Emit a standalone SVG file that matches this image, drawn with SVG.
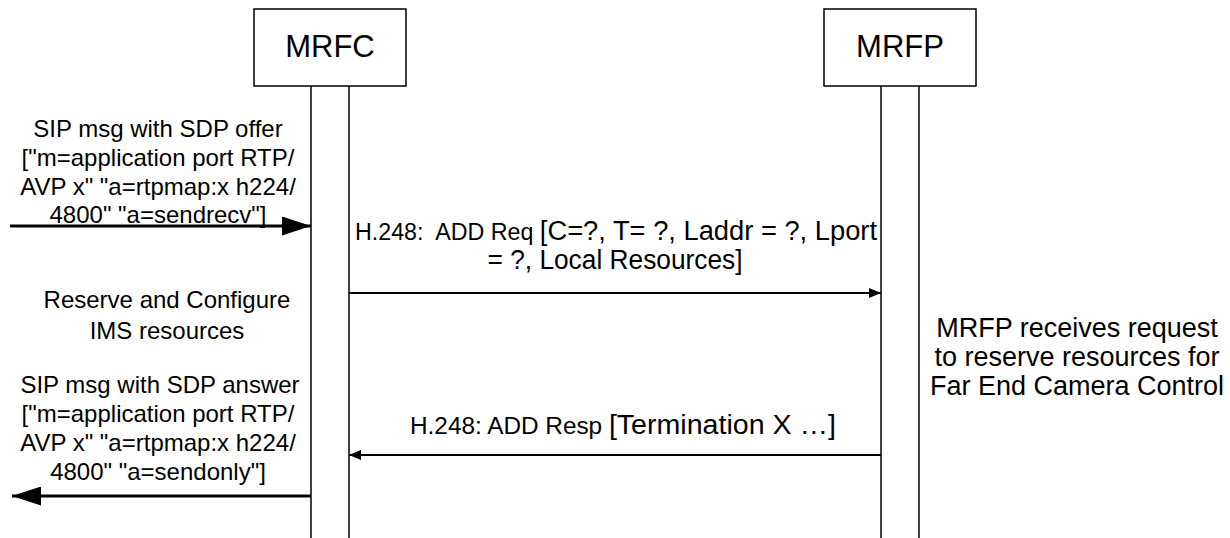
<svg xmlns="http://www.w3.org/2000/svg" width="1230" height="538" viewBox="0 0 1230 538">
<style>
.box{fill:#fff;stroke:#000;stroke-width:1.5}
.life{stroke:#000;stroke-width:1.5;fill:none}
.title{font-family:"Liberation Sans",Arial,sans-serif;font-size:31px;fill:#000;text-anchor:middle}
.t{font-family:"Liberation Sans",Arial,sans-serif;font-size:24px;fill:#000;text-anchor:middle}
.r{font-size:27px}
.s{font-size:23px}
.sip{stroke:#000;stroke-width:2.8;fill:none}
.h{stroke:#000;stroke-width:2;fill:none}
</style>
<defs>
<marker id="big" viewBox="0 0 29 19" refX="29" refY="9.5" markerWidth="29" markerHeight="19" markerUnits="userSpaceOnUse" orient="auto"><path d="M0,0 L29,9.5 L0,19 Z" fill="#000"/></marker>
<marker id="small" viewBox="0 0 12 10" refX="12" refY="5" markerWidth="12" markerHeight="10" markerUnits="userSpaceOnUse" orient="auto"><path d="M0,0 L12,5 L0,10 Z" fill="#000"/></marker>
</defs>
<rect width="1230" height="538" fill="#fff"/>
<g id="mrfc">
<rect class="box" x="254" y="9" width="152" height="77"/>
<text class="title" x="330" y="57">MRFC</text>
<line class="life" x1="311" y1="86" x2="311" y2="538"/>
<line class="life" x1="349" y1="86" x2="349" y2="538"/>
</g>
<g id="mrfp">
<rect class="box" x="824" y="9" width="152" height="77"/>
<text class="title" x="900" y="57">MRFP</text>
<line class="life" x1="881" y1="86" x2="881" y2="538"/>
<line class="life" x1="919" y1="86" x2="919" y2="538"/>
</g>
<g id="connectors">
<line class="sip" x1="10" y1="226" x2="311" y2="226" marker-end="url(#big)"/>
<line class="h" x1="349" y1="293" x2="881" y2="293" marker-end="url(#small)"/>
<line class="h" x1="881" y1="455" x2="349" y2="455" marker-end="url(#small)"/>
<line class="sip" x1="311" y1="496" x2="12" y2="496" marker-end="url(#big)"/>
</g>
<g id="labels">
<text class="t" x="158" y="137">SIP msg with SDP offer</text>
<text class="t" x="158" y="166">["m=application port RTP/</text>
<text class="t" x="158" y="195">AVP x" "a=rtpmap:x h224/</text>
<text class="t" x="158" y="223">4800" "a=sendrecv"]</text>
<text class="t" x="167" y="308">Reserve and Configure</text>
<text class="t" x="167" y="339">IMS resources</text>
<text class="t" x="160" y="393">SIP msg with SDP answer</text>
<text class="t" x="158" y="422">["m=application port RTP/</text>
<text class="t" x="158" y="451">AVP x" "a=rtpmap:x h224/</text>
<text class="t" x="158" y="480">4800" "a=sendonly"]</text>
<text class="t" x="616" y="240" textLength="522" lengthAdjust="spacingAndGlyphs"><tspan class="s">H.248:&#160; ADD Req </tspan><tspan class="r">[C=?, T= ?, Laddr = ?, Lport</tspan></text>
<text class="t r" x="615" y="269" textLength="255" lengthAdjust="spacingAndGlyphs">= ?, Local Resources]</text>
<text class="t" x="623" y="434" textLength="426" lengthAdjust="spacingAndGlyphs"><tspan class="s">H.248: ADD Resp </tspan><tspan class="r">[Termination X …]</tspan></text>
<text class="t r" x="1077" y="337">MRFP receives request</text>
<text class="t r" x="1077" y="366">to reserve resources for</text>
<text class="t r" x="1077" y="395">Far End Camera Control</text>
</g>
</svg>
